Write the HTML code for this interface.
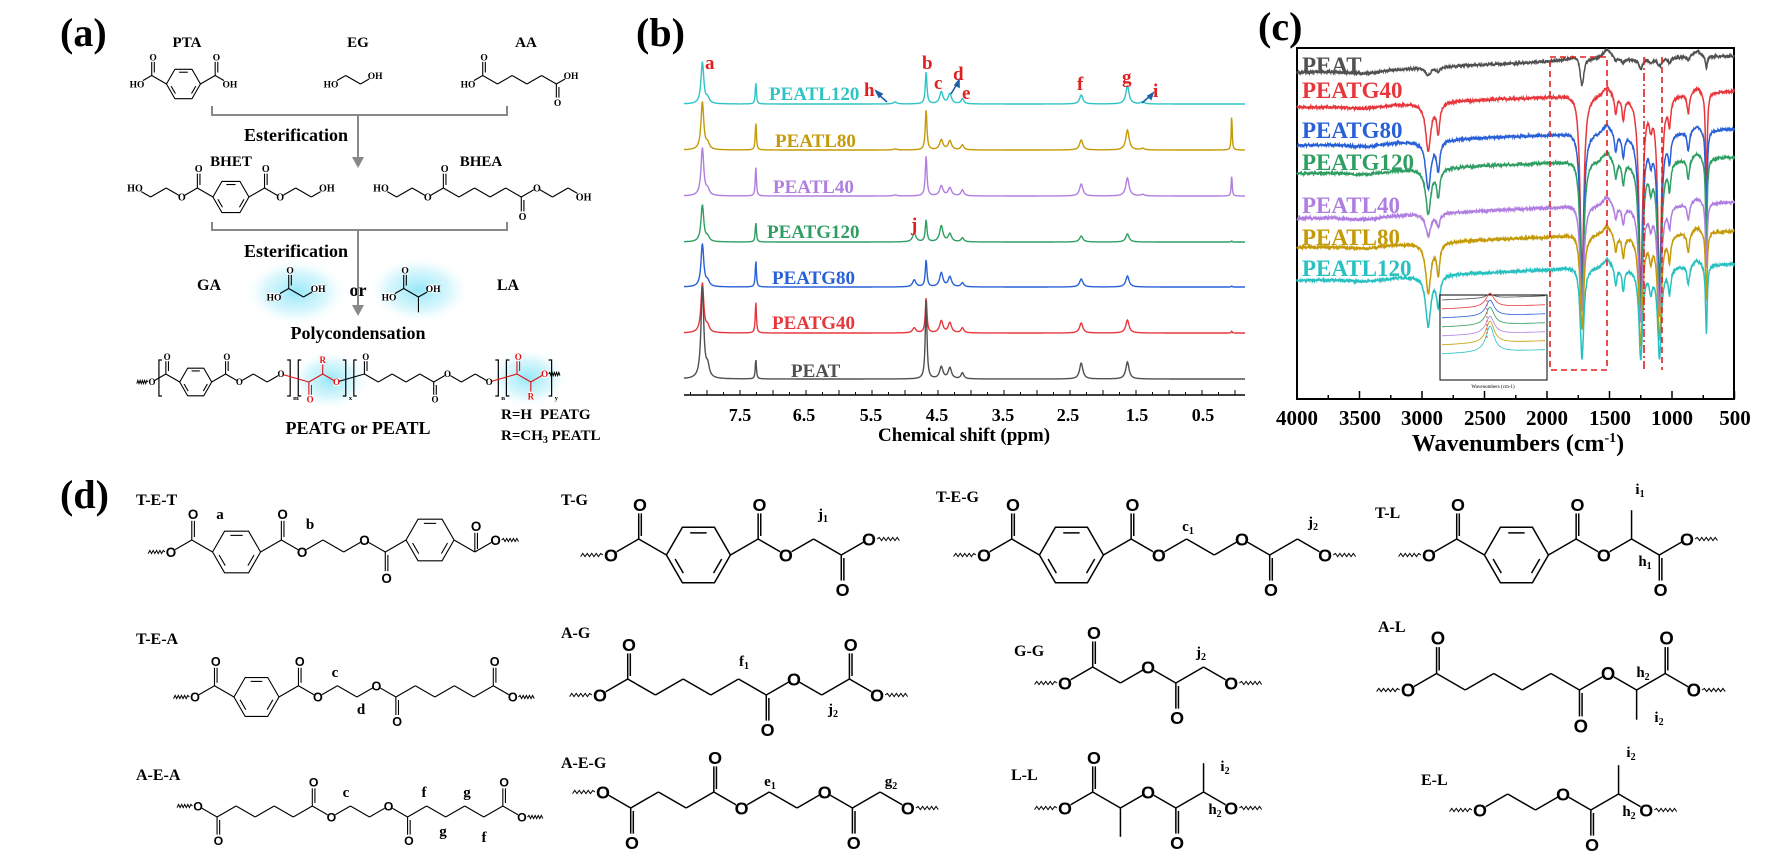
<!DOCTYPE html>
<html><head><meta charset="utf-8">
<style>
html,body{margin:0;padding:0;background:#fff;}
svg{display:block;font-family:"Liberation Serif",serif;}
.b{font-weight:bold;}
</style></head>
<body>
<svg id="s" width="1782" height="858" viewBox="0 0 1782 858" xmlns="http://www.w3.org/2000/svg">
<defs>
<radialGradient id="glow"><stop offset="0" stop-color="#8fe6f7" stop-opacity="0.95"/><stop offset="0.6" stop-color="#bff1fb" stop-opacity="0.6"/><stop offset="1" stop-color="#ffffff" stop-opacity="0"/></radialGradient>
</defs>
<rect width="1782" height="858" fill="#fff"/>
<ellipse cx="296" cy="292" rx="52" ry="34" fill="url(#glow)"/>
<ellipse cx="419" cy="290" rx="52" ry="34" fill="url(#glow)"/>
<ellipse cx="330" cy="380" rx="40" ry="30" fill="url(#glow)"/>
<ellipse cx="528" cy="378" rx="40" ry="30" fill="url(#glow)"/>
<g id="g"></g>
<g class="b" font-size="40" font-weight="bold">
<text x="60" y="46">(a)</text>
<text x="636" y="46">(b)</text>
<text x="1258" y="40">(c)</text>
<text x="60" y="508">(d)</text>
</g>
<g font-weight="bold" font-size="15" text-anchor="middle">
<text x="187" y="47">PTA</text>
<text x="358" y="47">EG</text>
<text x="526" y="47">AA</text>
<text x="231" y="166">BHET</text>
<text x="481" y="166">BHEA</text>
<text x="209" y="290" font-size="16">GA</text>
<text x="508" y="290" font-size="16">LA</text>
<text x="358" y="296" font-size="18">or</text>
<text x="296" y="141" font-size="18">Esterification</text>
<text x="296" y="257" font-size="18">Esterification</text>
<text x="358" y="339" font-size="18">Polycondensation</text>
<text x="358" y="434" font-size="18">PEATG or PEATL</text>
</g>
<g font-weight="bold" font-size="15">
<text x="501" y="419">R=H</text><text x="540" y="419">PEATG</text>
<text x="501" y="440">R=CH<tspan font-size="10" dy="3">3</tspan><tspan dy="-3"> PEATL</tspan></text>
</g>
<path d="M212 106 V115 H507 V106" fill="none" stroke="#888" stroke-width="2"/>
<path d="M212 222 V230 H507 V222" fill="none" stroke="#888" stroke-width="2"/>
<line x1="358" y1="115" x2="358" y2="160" stroke="#888" stroke-width="2"/>
<path d="M352 157 L358 168 L364 157 Z" fill="#888"/>
<line x1="358" y1="230" x2="358" y2="308" stroke="#888" stroke-width="2"/>
<path d="M352 305 L358 316 L364 305 Z" fill="#888"/>

<line x1="684" y1="395" x2="1245" y2="395" stroke="#000" stroke-width="1.6"/>
<g id="bt"></g>
<g font-weight="bold" font-size="18" text-anchor="middle">
<text x="740" y="421">7.5</text><text x="804" y="421">6.5</text><text x="871" y="421">5.5</text>
<text x="937" y="421">4.5</text><text x="1003" y="421">3.5</text><text x="1068" y="421">2.5</text>
<text x="1137" y="421">1.5</text><text x="1203" y="421">0.5</text>
<text x="964" y="441" font-size="19">Chemical shift (ppm)</text>
</g>
<g font-weight="bold" font-size="19">
<text x="769" y="100" fill="#2ec4c4">PEATL120</text>
<text x="775" y="147" fill="#c49a06">PEATL80</text>
<text x="773" y="193" fill="#b07ee0">PEATL40</text>
<text x="767" y="238" fill="#2f9e62">PEATG120</text>
<text x="772" y="284" fill="#2860d8">PEATG80</text>
<text x="772" y="329" fill="#e8373c">PEATG40</text>
<text x="791" y="377" fill="#505050">PEAT</text>
</g>
<g font-weight="bold" font-size="19" fill="#e0201f">
<text x="705" y="69">a</text><text x="922" y="69">b</text><text x="934" y="89">c</text>
<text x="953" y="80">d</text><text x="962" y="99">e</text><text x="1077" y="90">f</text>
<text x="1122" y="83">g</text><text x="864" y="96">h</text><text x="1153" y="97">i</text>
<text x="911" y="231">j</text>
</g>
<g stroke="#1f5fa8" stroke-width="1.6" fill="#1f5fa8">
<line x1="879" y1="95" x2="887" y2="102"/><path d="M876 91 L882 94 L879 97Z"/>
<line x1="951" y1="94" x2="957" y2="84"/><path d="M959 80 L959 87 L955 85Z"/>
<line x1="1142" y1="103" x2="1150" y2="96"/><path d="M1153 93 L1151 99 L1148 96Z"/>
</g>

<rect x="1297" y="48" width="437" height="351" fill="none" stroke="#000" stroke-width="2"/>
<g id="ct"></g>
<g font-weight="bold" font-size="21" text-anchor="middle">
<text x="1297" y="425">4000</text><text x="1360" y="425">3500</text><text x="1422" y="425">3000</text>
<text x="1485" y="425">2500</text><text x="1547" y="425">2000</text><text x="1610" y="425">1500</text>
<text x="1672" y="425">1000</text><text x="1735" y="425">500</text>
<text x="1518" y="451" font-size="24">Wavenumbers (cm<tspan font-size="14" dy="-9">-1</tspan><tspan dy="9">)</tspan></text>
</g>
<g font-weight="bold" font-size="23">
<text x="1302" y="73" fill="#505050">PEAT</text>
<text x="1302" y="98" fill="#e8373c">PEATG40</text>
<text x="1302" y="138" fill="#2860d8">PEATG80</text>
<text x="1302" y="170" fill="#2f9e62">PEATG120</text>
<text x="1302" y="213" fill="#b07ee0">PEATL40</text>
<text x="1302" y="245" fill="#c49a06">PEATL80</text>
<text x="1302" y="276" fill="#28c0c0">PEATL120</text>
</g>
<rect x="1440" y="295" width="107" height="85" fill="#fff" stroke="#000" stroke-width="1"/>
<g id="inset"></g>
<text x="1493" y="388" font-size="5" text-anchor="middle">Wavenumbers (cm-1)</text>
<g fill="none" stroke="#e02020" stroke-width="1.6">
<rect x="1550" y="57" width="57" height="313" stroke-dasharray="6 4"/>
<line x1="1644" y1="57" x2="1644" y2="370" stroke-dasharray="8 3 2 3"/>
<line x1="1662" y1="57" x2="1662" y2="370" stroke-dasharray="6 4"/>
<line x1="1487" y1="300" x2="1487" y2="340" stroke-width="0.8" stroke-dasharray="2 2"/>
</g>

<g font-weight="bold" font-size="16">
<text x="136" y="505">T-E-T</text><text x="561" y="505">T-G</text>
<text x="936" y="502">T-E-G</text><text x="1375" y="518">T-L</text>
<text x="136" y="644">T-E-A</text><text x="561" y="638">A-G</text>
<text x="1014" y="656">G-G</text><text x="1378" y="632">A-L</text>
<text x="136" y="780">A-E-A</text><text x="561" y="768">A-E-G</text>
<text x="1011" y="780">L-L</text><text x="1421" y="785">E-L</text>
</g>
<g font-weight="bold" font-size="15" text-anchor="middle">
<text x="220" y="519">a</text><text x="310" y="529">b</text>
<text x="823" y="519">j<tspan font-size="10" dy="3">1</tspan></text>
<text x="335" y="677">c</text><text x="361" y="714">d</text>
<text x="744" y="666">f<tspan font-size="10" dy="3">1</tspan></text>
<text x="833" y="714">j<tspan font-size="10" dy="3">2</tspan></text>
<text x="346" y="797">c</text><text x="424" y="797">f</text><text x="467" y="797">g</text>
<text x="443" y="836">g</text><text x="484" y="842">f</text>
<text x="770" y="786">e<tspan font-size="10" dy="3">1</tspan></text>
<text x="891" y="786">g<tspan font-size="10" dy="3">2</tspan></text>
<text x="1188" y="531">c<tspan font-size="10" dy="3">1</tspan></text>
<text x="1313" y="527">j<tspan font-size="10" dy="3">2</tspan></text>
<text x="1640" y="494">i<tspan font-size="10" dy="3">1</tspan></text>
<text x="1645" y="566">h<tspan font-size="10" dy="3">1</tspan></text>
<text x="1201" y="657">j<tspan font-size="10" dy="3">2</tspan></text>
<text x="1643" y="677">h<tspan font-size="10" dy="3">2</tspan></text>
<text x="1659" y="722">i<tspan font-size="10" dy="3">2</tspan></text>
<text x="1225" y="771">i<tspan font-size="10" dy="3">2</tspan></text>
<text x="1215" y="814">h<tspan font-size="10" dy="3">2</tspan></text>
<text x="1631" y="757">i<tspan font-size="10" dy="3">2</tspan></text>
<text x="1629" y="816">h<tspan font-size="10" dy="3">2</tspan></text>
</g>
</svg>
<script>
const NS='http://www.w3.org/2000/svg';
const G=document.getElementById('g');
function E(t,a,p){const e=document.createElementNS(NS,t);for(const k in a)e.setAttribute(k,a[k]);(p||G).appendChild(e);return e;}
function line(x1,y1,x2,y2,c,w){E('line',{x1:x1,y1:y1,x2:x2,y2:y2,stroke:c||'#000','stroke-width':w||1.2});}
function txt(x,y,s,fs,c,fam){const wdt=fs*0.62*s.length;E('rect',{x:x-wdt/2,y:y-fs*0.42,width:wdt,height:fs*0.84,fill:'#fff'});
 const e=E('text',{x:x,y:y+fs*0.36,'font-size':fs,'text-anchor':'middle',fill:c||'#000','font-family':fam,'font-weight':'bold'});e.textContent=s;}
function wavy(x,y,dir,len,c){let d='M'+x+' '+y;for(let i=1;i<=10;i++){d+=' L'+(x+dir*len*i/10)+' '+(y+(i%2?-1.6:1.6));}E('path',{d:d,fill:'none',stroke:c||'#000','stroke-width':1});}
function hex(cx,cy,r,c,w){const p=[];for(let i=0;i<6;i++){const a=Math.PI+i*Math.PI/3;p.push([cx+r*Math.cos(a),cy+r*Math.sin(a)]);}
 E('polygon',{points:p.map(q=>q.join(',')).join(' '),fill:'none',stroke:c,'stroke-width':w});
 [[1,2],[3,4],[5,0]].forEach(function(e){const a=p[e[0]],b=p[e[1]];const f=0.2,sh=0.18;
  const ax=a[0]+(cx-a[0])*f,ay=a[1]+(cy-a[1])*f,bx=b[0]+(cx-b[0])*f,by=b[1]+(cy-b[1])*f;
  line(ax+(bx-ax)*sh,ay+(by-ay)*sh,bx-(bx-ax)*sh,by-(by-ay)*sh,c,w);});}
function bracket(b,top,bot,open,sub,fs){const d=open?-1:1;E('path',{d:'M'+(b-3*d)+' '+top+' L'+b+' '+top+' L'+b+' '+bot+' L'+(b-3*d)+' '+bot,fill:'none',stroke:'#000','stroke-width':1.2});
 if(sub){const e=E('text',{x:b+3,y:bot+4,'font-size':fs,'font-weight':'bold'});e.textContent=sub;}}
function mol(x,yl,s,toks,lev,fam){
 const dx=s*0.866,dy=s/2,fs=Math.max(9,s*0.56),lw=s>25?1.5:1.1;
 let cx=x-dx,level=1-lev,prev=null,sw=false;const labs=[];
 const top=yl-dy-14,bot=yl+14;
 for(const t of toks){
  if(t==='~'){if(!prev)sw=true;else wavy(prev.x+(prev.lab?fs*0.45:0),prev.y,1,s*0.7);continue;}
  if(t[0]==='+'){const parts=t.slice(1).split(':');const N=+parts[0];
   bracket(cx+0.33*(N+dx),top,bot,false,parts[1],fs*0.75);bracket(cx+0.62*(N+dx),top,bot,true,null);cx+=N;continue;}
  if(t==='['){bracket(cx+dx*0.5,top,bot,true,null);continue;}
  if(t[0]===']'){bracket(cx+dx*0.5,top,bot,false,t.slice(1),fs*0.75);continue;}
  if(t==='B'){cx+=dx;level^=1;const vy=level?yl-dy:yl;if(prev)line(prev.x,prev.y,cx,vy,'#000',lw);
   hex(cx+s,vy,s,'#000',lw);cx+=2*s;prev={x:cx,y:vy};continue;}
  const red=t.indexOf('r')>=0,col=red?'#e01010':'#000';
  cx+=dx;level^=1;const vy=level?yl-dy:yl;
  let lab=null;if(t.indexOf('HO')===0)lab='HO';else if(t.indexOf('OH')===0)lab='OH';else if(t[0]==='O')lab='O';
  if(prev)line(prev.x,prev.y,cx,vy,col,lw);
  const auto=level?-1:1;
  if(t.indexOf('=')>=0){const dir=t.indexOf('=u')>=0?-1:t.indexOf('=d')>=0?1:auto;
   line(cx,vy,cx,vy+dir*s*0.8,col,lw);line(cx+2.6,vy+dir*3,cx+2.6,vy+dir*s*0.8,col,lw);
   labs.push([cx+1.3,vy+dir*(s*0.8+fs*0.5),'O',col]);}
  if(t.indexOf('m')>=0){line(cx,vy,cx,vy+auto*s*0.9,col,lw);}
  if(t.indexOf('R')>=0){line(cx,vy,cx,vy+auto*s*0.6,col,lw);labs.push([cx,vy+auto*(s*0.6+fs*0.5),'R',col]);}
  if(lab)labs.push([cx,vy,lab,col]);
  if(sw){wavy(cx-(lab?fs*0.45:0),vy,-1,s*0.7);sw=false;}
  prev={x:cx,y:vy,lab:lab};
 }
 labs.forEach(l=>txt(l[0],l[1],l[2],fs,l[3],fam));
}
const SF='Liberation Serif, serif',SA='Liberation Sans, sans-serif';
mol(137,84,17,['HO','C=u','B','C=u','OH'],0,SF);
mol(331,84,17,['HO','C','C','OH'],0,SF);
mol(468,84,17,['HO','C=u','C','C','C','C','C=d','OH'],0,SF);
mol(135,197,18,['HO','C','C','O','C=u','B','C=u','O','C','C','OH'],1,SF);
mol(381,197,18,['HO','C','C','O','C=u','C','C','C','C','C=d','O','C','C','OH'],1,SF);
mol(274,297,17,['HO','C=u','C','OH'],0,SF);
mol(389,297,17,['HO','C=u','Cm','OH'],0,SF);
mol(152,382,16,['~','O','[','C=u','B','C=u','O','C','C','O','+14:m','Cr=d','CRr','Or','+14:x','C=u','C','C','C','C','C=d','O','C','C','O','+14:n','Cr=u','CRr','Or',']y','~'],0,SF);
mol(171,552,24,['~','O','C=u','B','C=u','O','C','C','O','C=d','B','C=u','O','~'],0,SA);
mol(611,555,32,['~','O','C=u','B','C=u','O','C','C=d','O','~'],0,SA);
mol(984,555,32,['~','O','C=u','B','C=u','O','C','C','O','C=d','C','O','~'],0,SA);
mol(1429,555,32,['~','O','C=u','B','C=u','O','Cm','C=d','O','~'],0,SA);
mol(195,697,22.5,['~','O','C=u','B','C=u','O','C','C','O','C=d','C','C','C','C','C=u','O','~'],0,SA);
mol(600,695,32,['~','O','C=u','C','C','C','C','C=d','O','C','C=u','O','~'],0,SA);
mol(198,817,22,['~','O','C=d','C','C','C','C','C=u','O','C','C','O','C=d','C','C','C','C','C=u','O','~'],1,SA);
mol(603,808,32,['~','O','C=d','C','C','C=u','O','C','C','O','C=d','C','O','~'],1,SA);
mol(1065,683,32,['~','O','C=u','C','O','C=d','C','O','~'],0,SA);
mol(1408,690,33,['~','O','C=u','C','C','C','C','C=d','O','Cm','C=u','O','~'],0,SA);
mol(1065,808,32,['~','O','C=u','Cm','O','C=d','Cm','O','~'],0,SA);
mol(1480,810,32,['~','O','C','C','O','C=d','Cm','O','~'],0,SA);

const BT=document.getElementById('bt');
for(let p=8.25;p>-0.2;p-=0.25){const x=740+(7.5-p)*66;if(x<684||x>1245)continue;const maj=Math.abs(p*2-Math.round(p*2))<0.01;
 E('line',{x1:x,y1:395,x2:x,y2:maj?390:392,stroke:'#000','stroke-width':1},BT);}
const rows=[
 [104,'#2ec4c4',{a:42,s:22,b:32,c:12,d:10,e:5,f:9,g:18,h:2,i:2}],
 [150,'#c49a06',{a:48,s:28,b:40,c:10,d:9,e:5,f:10,g:20,t:37,i:1.5,h:1}],
 [196,'#b07ee0',{a:48,s:30,b:40,c:10,d:8,e:6,f:12,g:18,t:22,i:1.5,h:1}],
 [242,'#2f9e62',{a:37,s:20,j:9,b:22,c:16,d:8,e:4,f:6,g:8,t:1}],
 [287,'#2860d8',{a:43,s:27,j:7,b:27,c:14,d:10,e:4,f:8,g:11,t:1}],
 [333,'#e8373c',{a:50,s:32,j:5,b:35,c:12,d:10,e:5,f:10,g:13,t:2}],
 [379,'#505050',{a:92,s:20,b:80,c:12,d:11,e:6,f:16,g:17}]];
const pk={a:[8.07,0.025],s:[7.26,0.01],j:[4.86,0.03],b:[4.68,0.015],c:[4.45,0.03],d:[4.32,0.03],e:[4.13,0.025],f:[2.33,0.03],g:[1.63,0.03],h:[5.15,0.03],i:[1.4,0.03],t:[0.05,0.008]};
rows.forEach(function(r){let d='';for(let x=684;x<=1245;x+=0.5){const p=7.5-(x-740)/66;let y=r[0];
  for(const k in r[2]){const q=pk[k];const u=(p-q[0])/q[1];y-=r[2][k]/(1+u*u);}
  if(r[2].a){const u=(p-7.99)/0.03;y-=r[2].a*0.12/(1+u*u);}
  d+=(d?' L':'M')+x.toFixed(1)+' '+y.toFixed(1);}
 E('path',{d:d,fill:'none',stroke:r[1],'stroke-width':1.4},BT);});

const CT=document.getElementById('ct');
for(let w=4000;w>=500;w-=250){const x=1297+(4000-w)*0.125;E('line',{x1:x,y1:399,x2:x,y2:w%500===0?391:395,stroke:'#000','stroke-width':1.5},CT);}
function L(w,c,dp,wd){const u=(w-c)/wd;return dp/(1+u*u);}
function rnd(i){const v=Math.sin(i*12.9898)*43758.5453;return v-Math.floor(v);}
const ir=[
 [62,'#505050',8,30,10,8,14,0.2],
 [97,'#e8373c',48,185,190,190,95,1],
 [135,'#2860d8',48,160,170,165,90,1],
 [163,'#2f9e62',45,145,150,150,85,1],
 [208,'#b07ee0',22,110,115,110,65,0.8],
 [237,'#c49a06',50,100,110,105,70,1],
 [270,'#28c0c0',50,95,90,90,70,1]];
ir.forEach(function(c,ci){const o=c[0];let d='';let i=0;
 for(let w=4000;w>=500;w-=2.5){i++;
  let y=o+(w>2000?(w-2000)*0.005:-(2000-w)*0.004);
  y-=L(w,1750,6,80)+L(w,1520,10,40)+L(w,800,6,40);
  y+=L(w,3450,4,200)+L(w,2950,c[2],25)+L(w,2870,c[2]*0.6,15)+L(w,1720,c[3],18)
   +c[7]*(L(w,1450,18,12)+L(w,1390,22,12)+L(w,1170,20,15)+L(w,1020,25,12)+L(w,870,20,12))
   +L(w,1250,c[4],18)+L(w,1100,c[5],18)+L(w,725,c[6],8);
  y+=(rnd(i+ci*1000)-0.5)*2.6;
  if(y>396)y=396;
  const x=1297+(4000-w)*0.125;d+=(d?' L':'M')+x.toFixed(1)+' '+y.toFixed(1);}
 E('path',{d:d,fill:'none',stroke:c[1],'stroke-width':1.5},CT);});
const IN=document.getElementById('inset');
ir.forEach(function(c,k){let d='';const depth=[4,14,16,18,18,22,26][k];
 for(let x=1442;x<=1545;x+=1){let y=300+k*9-(x-1442)*0.04-L(x,1490,depth,5);d+=(d?' L':'M')+x+' '+y.toFixed(1);}
 E('path',{d:d,fill:'none',stroke:c[1],'stroke-width':0.8},IN);});
</script>
</body></html>
